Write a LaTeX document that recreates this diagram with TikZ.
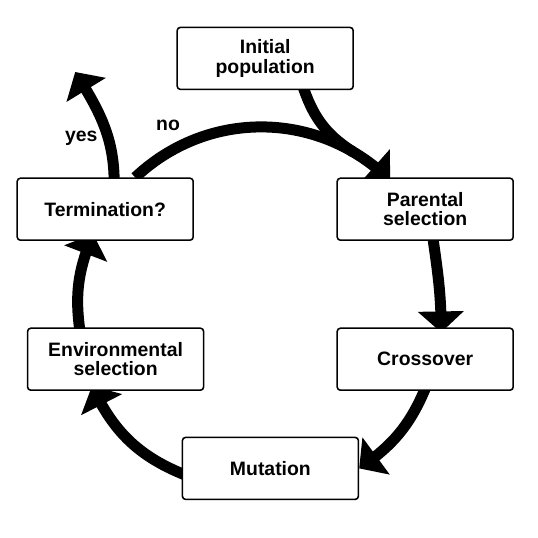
\documentclass[tikz,border=0pt]{standalone}
\usepackage{fontspec}
\setmainfont{Liberation Sans}
\usetikzlibrary{arrows.meta,bending,backgrounds}

\begin{document}
\begin{tikzpicture}[etape/.style={draw,line width=1.1pt,rounded corners=0.08cm,fill=white,align=center,minimum width=4.4cm,minimum height=1.55cm,font=\bfseries\fontsize{13.8}{14}\selectfont},fleche/.style={line width=0.275cm,-{Triangle[width=1.125cm,length=0.525cm,flex]}},lien/.style={line width=0.275cm},rep/.style={font=\bfseries\fontsize{13.8}{14}\selectfont}]
\useasboundingbox (0,0) rectangle (13.45,-13.45);
\node[etape] (init) at (6.63,-1.46) {Initial\\population};
\node[etape] (term) at (2.63,-5.23) {Termination?};
\node[etape] (par) at (10.63,-5.23) {Parental\\selection};
\node[etape] (env) at (2.89,-8.98) {Environmental\\selection};
\node[etape] (cross) at (10.63,-8.98) {Crossover};
\node[etape] (mut) at (6.76,-11.71) {Mutation};
\node[rep] (yes) at (2.03,-3.45) {yes};
\node[rep] (no) at (4.2,-3.13) {no};
\coordinate (done) at (1.88,-1.8);
\begin{scope}[on background layer]
\draw[fleche] ([xshift=.75cm]term.north) to[bend left=44] coordinate[pos=.84] (join) ([xshift=-.875cm,yshift=-.075cm]par.north);
\draw[lien] ([xshift=.925cm,yshift=.15cm]init.south) to[out=-72,in=148] (join);
\draw[fleche] ([xshift=.175cm,yshift=.2cm]par.south) to[out=-82,in=90] ([xshift=.4cm,yshift=-.125cm]cross.north);
\draw[fleche] ([xshift=.05cm,yshift=.18cm]cross.south) to[bend left=17] (mut.east);
\draw[fleche] ([xshift=.18cm,yshift=-.2cm]mut.west) to[bend left=22] ([xshift=-.59cm,yshift=.125cm]env.south);
\draw[fleche] ([xshift=-.875cm,yshift=-.2cm]env.north) to[bend left=16] ([xshift=-.3cm,yshift=.175cm]term.south);
\draw[fleche] ([xshift=.225cm,yshift=-.15cm]term.north) to[out=90,in=-58] (done);
\end{scope}
\end{tikzpicture}
\end{document}
